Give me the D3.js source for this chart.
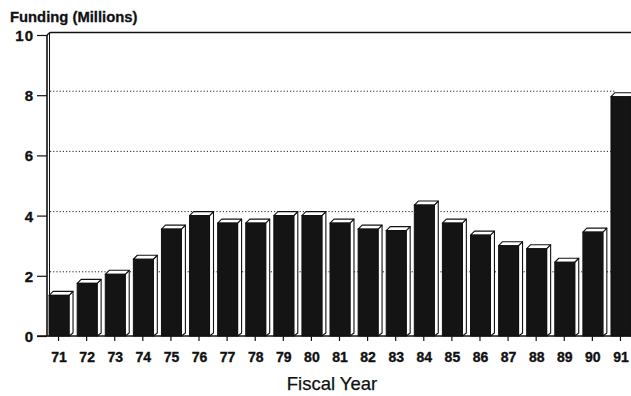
<!DOCTYPE html>
<html>
<head>
<meta charset="utf-8">
<script src="https://cdn.jsdelivr.net/npm/d3@7"></script>
<style>
  html, body { margin: 0; padding: 0; background: #fff; }
  svg { display: block; }
  text { font-family: "Liberation Sans", Arial, Helvetica, sans-serif; fill: #111; }
</style>
</head>
<body>
<svg id="chart" width="631" height="396"></svg>
<script>
// Federal funding by fiscal year, in millions of dollars
const years = ["71","72","73","74","75","76","77","78","79","80","81","82","83","84","85","86","87","88","89","90","91"];
const funding = [1.35, 1.75, 2.05, 2.55, 3.55, 4.0, 3.75, 3.75, 4.0, 4.0, 3.75, 3.55, 3.5, 4.35, 3.75, 3.35, 3.0, 2.9, 2.45, 3.45, 7.95];
const yTicks = [0, 2, 4, 6, 8, 10];
const gridTicks = [2, 4, 6, 8];

const svg = d3.select("#chart");
const W = 631;
const ink = "#111";

// 3D depth of the bars and the back wall
const dx = 4, dy = 4;

const x = d3.scaleBand()
  .domain(years)
  .range([45, 635])
  .paddingInner(0.29)
  .paddingOuter(0.145);

const y = d3.scaleLinear().domain([0, 10]).range([336, 35]);

const axisX = 47;

// dotted gridlines on the back wall
svg.append("g")
  .selectAll("line")
  .data(gridTicks)
  .join("line")
  .attr("x1", axisX + 3)
  .attr("x2", x("91") + dx)
  .attr("y1", d => y(d) - dy)
  .attr("y2", d => y(d) - dy)
  .attr("stroke", "#222")
  .attr("stroke-width", 1)
  .attr("stroke-dasharray", "1.2,2");

// back wall top edge and left edge
svg.append("line")
  .attr("x1", axisX + 3).attr("x2", W)
  .attr("y1", y(10) - 2.5).attr("y2", y(10) - 2.5)
  .attr("stroke", ink).attr("stroke-width", 1.6);
svg.append("line")
  .attr("x1", axisX + 2.5).attr("x2", axisX + 2.5)
  .attr("y1", y(10) - 2.5).attr("y2", y(0) - 2)
  .attr("stroke", ink).attr("stroke-width", 1);
svg.append("line")
  .attr("x1", axisX).attr("x2", axisX + 3)
  .attr("y1", y(10)).attr("y2", y(10) - 2.5)
  .attr("stroke", ink).attr("stroke-width", 1.4);

// bars: black front face, white top and right side faces
const bars = svg.append("g")
  .selectAll("g")
  .data(years.map((yr, i) => ({ yr, v: funding[i] })))
  .join("g");

bars.append("path")
  .attr("d", d => {
    const x0 = x(d.yr) + x.bandwidth(), yt = y(d.v), yb = y(0);
    return `M${x0},${yt} L${x0 + dx},${yt - dy} L${x0 + dx},${yb - dy + 1} L${x0},${yb} Z`;
  })
  .attr("fill", "#fff").attr("stroke", ink).attr("stroke-width", 1.1)
  .attr("stroke-linejoin", "round");

bars.append("path")
  .attr("d", d => {
    const x0 = x(d.yr), x1 = x0 + x.bandwidth(), yt = y(d.v);
    return `M${x0},${yt} L${x0 + dx},${yt - dy} L${x1 + dx},${yt - dy} L${x1},${yt} Z`;
  })
  .attr("fill", "#fff").attr("stroke", ink).attr("stroke-width", 1.1)
  .attr("stroke-linejoin", "round");

bars.append("rect")
  .attr("x", d => x(d.yr))
  .attr("y", d => y(d.v))
  .attr("width", x.bandwidth())
  .attr("height", d => y(0) - y(d.v))
  .attr("fill", "#141414")
  .attr("stroke", ink).attr("stroke-width", 1);

// left (value) axis
const yAxis = svg.append("g")
  .attr("transform", `translate(${axisX},0)`)
  .call(d3.axisLeft(y).tickValues(yTicks).tickSize(10).tickPadding(3).tickFormat(d3.format("d")));
yAxis.select(".domain").attr("stroke", ink).attr("stroke-width", 1.6)
  .attr("d", `M0,${y(0)}V${y(10)}`);
yAxis.selectAll(".tick line").attr("stroke", ink).attr("stroke-width", 1.2);
yAxis.selectAll(".tick text")
  .attr("font-size", 15).attr("font-weight", "bold").attr("fill", ink)
  .attr("stroke", ink).attr("stroke-width", 0.35)
  .attr("letter-spacing", 1)
  .attr("font-family", "Liberation Sans, Arial, sans-serif")
  .attr("dy", "0.36em");

// bottom (year) axis
const xAxis = svg.append("g")
  .attr("transform", `translate(0,${y(0)})`)
  .call(d3.axisBottom(x).tickSize(5).tickPadding(11));
xAxis.select(".domain").attr("stroke", ink).attr("stroke-width", 1.6)
  .attr("d", `M${axisX - 10},0H${W}`);
xAxis.selectAll(".tick line").attr("stroke", ink).attr("stroke-width", 1.2)
  .attr("transform", `translate(${-0.5},0)`);
xAxis.selectAll(".tick text")
  .attr("font-size", 14).attr("font-weight", "bold").attr("fill", ink)
  .attr("stroke", ink).attr("stroke-width", 0.35)
  .attr("font-family", "Liberation Sans, Arial, sans-serif");

// titles
svg.append("text")
  .attr("x", 10).attr("y", 22)
  .attr("font-size", 14.8).attr("font-weight", "bold")
  .attr("stroke", ink).attr("stroke-width", 0.3)
  .text("Funding (Millions)");

svg.append("text")
  .attr("x", 332).attr("y", 390)
  .attr("text-anchor", "middle")
  .attr("font-size", 18.5)
  .attr("stroke", ink).attr("stroke-width", 0.25)
  .text("Fiscal Year");
</script>
</body>
</html>
